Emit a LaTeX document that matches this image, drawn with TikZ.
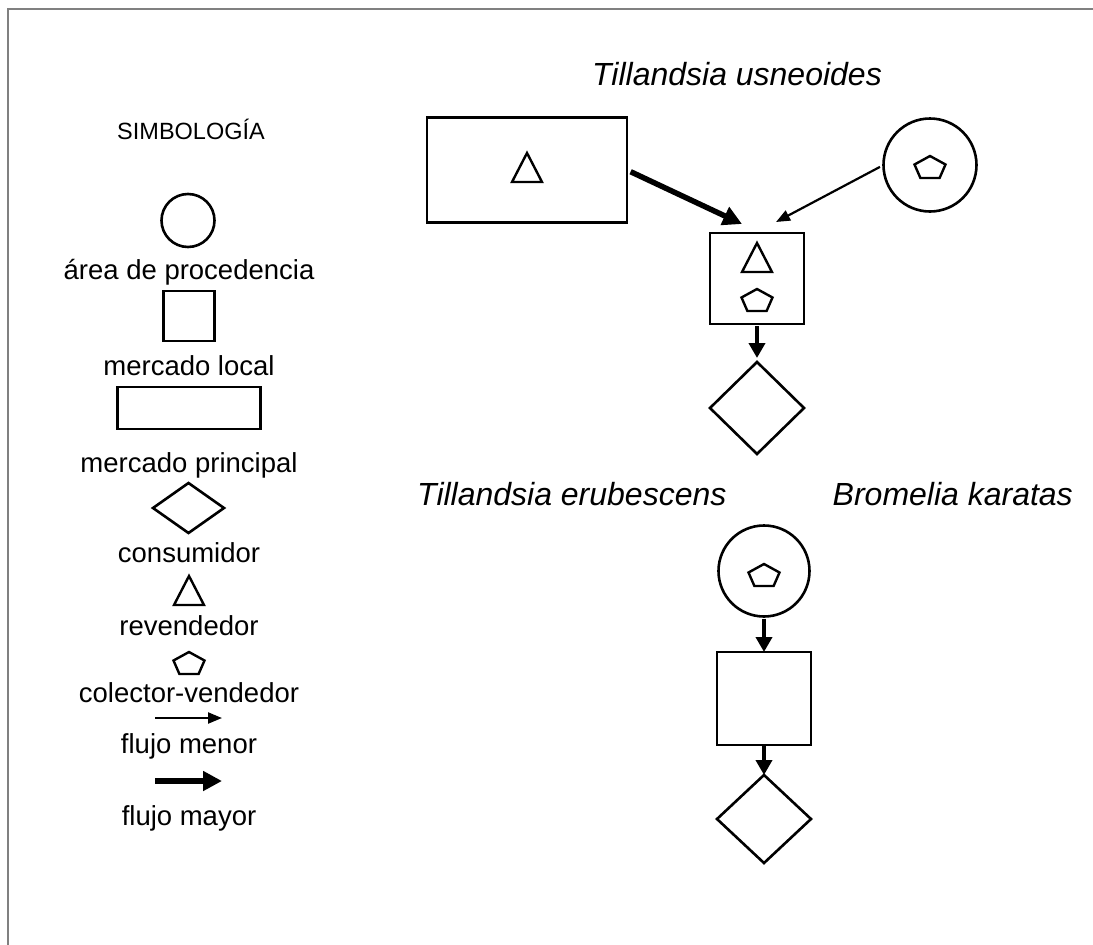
\documentclass[tikz,border=0pt]{standalone}
\usepackage{fontspec}
\setmainfont{Liberation Sans}
\usetikzlibrary{arrows.meta,shapes.geometric}
\begin{document}
\begin{tikzpicture}[x=1pt,y=-1pt,
  shp/.style={draw=black,line width=2.6pt,inner sep=0pt,outer sep=0pt},
  box/.style={shp,rectangle},
  circ/.style={shp,circle},
  dia/.style={shp,diamond},
  lbl/.style={inner sep=0pt,anchor=base,font=\fontsize{27.5}{30}\selectfont},
  head/.style={inner sep=0pt,anchor=base,font=\fontsize{23.5}{26}\selectfont},
  title/.style={inner sep=0pt,anchor=base,font=\fontsize{32}{36}\selectfont\itshape},
  thinflow/.style={line width=2.2pt,-{Triangle[length=14pt,width=11pt]}},
  thickflow/.style={line width=5.5pt,-{Triangle[length=19pt,width=19pt]}},
  downflow/.style={line width=4.8pt,-{Triangle[length=15pt,width=16pt]}},
  tri/.pic={\draw[line width=2.4pt,line join=miter] (0,-15) -- (15,14) -- (-15,14) -- cycle;},
  pent/.pic={\draw[line width=2.4pt] (0,-11) -- (15.5,-2.5) -- (9.6,11) -- (-9.6,11) -- (-15.5,-2.5) -- cycle;},
]
\useasboundingbox (0,0) rectangle (1093,945);
\draw[gray,line width=2pt] (1093,9) -- (8,9) -- (8,945);

% legend
\node[head] (simb) at (191,139) {SIMBOLOGÍA};
\node[circ,minimum size=53pt] (lc) at (188,220.5) {};
\node[lbl] (t1) at (189,279) {área de procedencia};
\node[box,minimum width=51pt,minimum height=50pt] (ls) at (189,316) {};
\node[lbl] (t2) at (189,375) {mercado local};
\node[box,minimum width=143pt,minimum height=42pt] (lr) at (189,408) {};
\node[lbl] (t3) at (189,472) {mercado principal};
\node[dia,minimum width=71pt,minimum height=50pt] (ld) at (188.5,508) {};
\node[lbl] (t4) at (189,562) {consumidor};
\pic at (189,591) {tri};
\node[lbl] (t5) at (189,635) {revendedor};
\pic at (189,663) {pent};
\node[lbl] (t6) at (189,702) {colector-vendedor};
\coordinate (la1) at (155,718);
\coordinate (la2) at (222,718);
\draw[thinflow] (la1) -- (la2);
\node[lbl] (t7) at (189,753) {flujo menor};
\coordinate (lb1) at (155,781);
\coordinate (lb2) at (222,781);
\draw[thickflow] (lb1) -- (lb2);
\node[lbl] (t8) at (189,825) {flujo mayor};

% Tillandsia usneoides
\node[title] (ti1) at (737,85) {Tillandsia usneoides};
\node[box,minimum width=200pt,minimum height=105pt] (mp) at (527,170) {};
\pic at (527,168) {tri};
\node[circ,minimum size=93pt] (ap) at (930,165) {};
\pic at (930,167) {pent};
\node[box,minimum width=94pt,minimum height=91pt] (ml) at (757,278.5) {};
\pic at (757,258) {tri};
\pic at (757,300) {pent};
\node[dia,minimum width=94pt,minimum height=92pt] (c1) at (757,408) {};
\coordinate (inL) at (742,224);
\coordinate (inR) at (776,222);
\draw[thickflow,shorten <=4pt] (mp.east) -- (inL);
\draw[thinflow,shorten <=4pt] (ap.west) -- (inR);
\draw[downflow,shorten <=2pt,shorten >=4pt] (ml.south) -- (c1.north);

% Tillandsia erubescens / Bromelia karatas
\node[title,anchor=base west] (ti2) at (417,505) {Tillandsia erubescens};
\node[title,anchor=base east] (ti3) at (1073,505) {Bromelia karatas};
\node[circ,minimum size=91pt] (ap2) at (764,571) {};
\pic at (764,575) {pent};
\node[box,minimum width=94pt,minimum height=93pt] (ml2) at (764,698.5) {};
\node[dia,minimum width=94pt,minimum height=88pt] (c2) at (764,819) {};
\draw[downflow,shorten <=2pt] (ap2.south) -- (ml2.north);
\draw[downflow] (ml2.south) -- (c2.north);
\end{tikzpicture}
\end{document}
